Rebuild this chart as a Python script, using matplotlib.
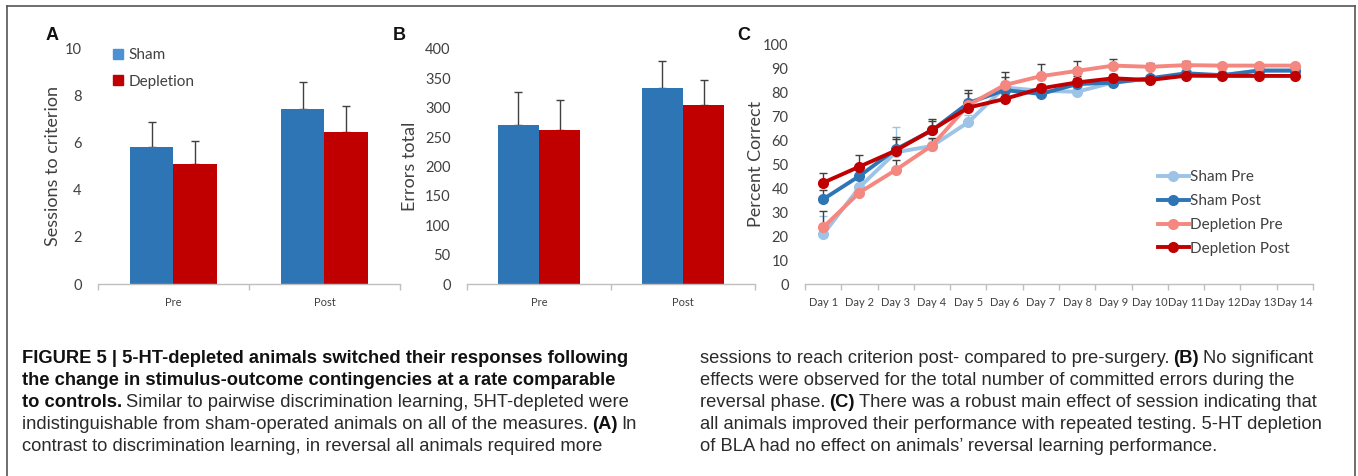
import numpy as np
import matplotlib
matplotlib.use("Agg")
import matplotlib.pyplot as plt
from matplotlib.lines import Line2D
from matplotlib.patches import Patch

W, H = 1358, 476

# panel A / B data
groups = ["Pre", "Post"]
sessions_sham = [5.82, 7.40]
sessions_sham_err = [1.06, 1.17]
sessions_depl = [5.10, 6.45]
sessions_depl_err = [0.96, 1.09]

errors_sham = [271, 334]
errors_sham_err = [55, 45]
errors_depl = [262, 305]
errors_depl_err = [51, 42]

# panel C data
days = ["Day 1", "Day 2", "Day 3", "Day 4", "Day 5", "Day 6", "Day 7",
        "Day 8", "Day 9", "Day 10", "Day 11", "Day 12", "Day 13", "Day 14"]
sham_pre = [20.7, 40.3, 54.9, 57.5, 67.4, 81.9, 80.5, 80.1, 84.0, 85.5, 87.0, 87.0, 89.0, 89.0]
sham_post = [35.3, 45.0, 56.1, 64.0, 75.4, 80.8, 79.2, 83.3, 83.9, 85.7, 87.8, 87.0, 88.9, 88.9]
depl_pre = [23.6, 38.1, 47.5, 57.7, 74.5, 82.9, 86.6, 88.8, 91.0, 90.5, 91.2, 91.0, 91.0, 91.0]
depl_post = [42.2, 48.9, 55.6, 64.2, 73.5, 77.1, 81.5, 84.0, 85.7, 85.0, 86.8, 86.7, 86.7, 86.7]
sham_pre_err = [7.6, 3.0, 10.4, 3.0, 3.0, 2.5, 2.5, 2.0, 1.5, 1.0, 1.0, 1.0, 1.0, 1.0]
sham_post_err = [4.0, 4.0, 5.0, 4.0, 5.5, 5.6, 3.0, 3.4, 2.0, 1.0, 1.0, 1.0, 1.0, 1.0]
depl_pre_err = [7.0, 3.0, 4.0, 3.0, 5.0, 5.3, 5.0, 4.3, 2.6, 1.7, 1.7, 0.8, 0.8, 0.8]
depl_post_err = [4.0, 4.7, 5.0, 4.7, 3.0, 2.0, 2.0, 2.0, 2.0, 1.5, 1.0, 1.0, 1.0, 1.0]

SHAM = "#2E75B6"
SHAM_LEG = "#4B91D3"
DEPL = "#C00000"
LINE_COLORS = ["#9DC3E6", "#2E75B6", "#F4877F", "#C00000"]
TXT = "#404040"
AXC = "#BFBFBF"
CHART_FONT = ["Lato", "DejaVu Sans"]
CAP_FONT = ["Liberation Sans", "DejaVu Sans"]

plt.rcParams["font.family"] = CHART_FONT

fig = plt.figure(figsize=(W / 100, H / 100), dpi=100)


def rect(left, top, right, bottom):
    return [left / W, 1 - bottom / H, (right - left) / W, (bottom - top) / H]


def style_axis(ax, n, label, label_x):
    for s in ["left", "top", "right"]:
        ax.spines[s].set_visible(False)
    ax.spines["bottom"].set_color(AXC)
    ax.spines["bottom"].set_linewidth(1.0)
    ax.set_xlim(-0.5, n - 0.5)
    ax.set_xticks(np.arange(-0.5, n), minor=True)
    ax.tick_params(axis="x", which="major", length=0, pad=9, labelsize=8, labelcolor=TXT)
    ax.tick_params(axis="x", which="minor", length=4, color=AXC, width=1)
    ax.tick_params(axis="y", length=0, pad=11.8, labelsize=10.5, labelcolor=TXT)
    ax.set_ylabel(label, fontsize=13, color=TXT)
    ax.yaxis.set_label_coords(label_x, 0.5)


def bar_panel(ax, sham, sham_err, depl, depl_err, ymax, step, label, label_x):
    x = np.arange(len(groups))
    w = 0.285
    ax.bar(x - w / 2, sham, w, color=SHAM, zorder=2)
    ax.bar(x + w / 2, depl, w, color=DEPL, zorder=2)
    ax.errorbar(x - w / 2, sham, yerr=[np.zeros(len(x)), sham_err], fmt="none",
                ecolor=TXT, elinewidth=1, capsize=3, capthick=1, zorder=1)
    ax.errorbar(x + w / 2, depl, yerr=[np.zeros(len(x)), depl_err], fmt="none",
                ecolor=TXT, elinewidth=1, capsize=3, capthick=1, zorder=1)
    ax.set_ylim(0, ymax)
    ax.set_yticks(np.arange(0, ymax + 1, step))
    ax.set_xticks(x)
    ax.set_xticklabels(groups)
    style_axis(ax, len(groups), label, label_x)


axA = fig.add_axes(rect(98, 48, 400, 284))
bar_panel(axA, sessions_sham, sessions_sham_err, sessions_depl, sessions_depl_err,
          10, 2, "Sessions to criterion", -0.1225)
axA.legend(handles=[Patch(color=SHAM_LEG, label="Sham"), Patch(color=DEPL, label="Depletion")],
           loc="upper left", bbox_to_anchor=(113 / W, 1 - 48 / H), bbox_transform=fig.transFigure,
           frameon=False, fontsize=11, handlelength=0.65, handleheight=0.65,
           handletextpad=0.35, labelspacing=0.82, borderpad=0, borderaxespad=0,
           labelcolor=TXT)

axB = fig.add_axes(rect(467, 49, 755, 284))
bar_panel(axB, errors_sham, errors_sham_err, errors_depl, errors_depl_err,
          400, 50, "Errors total", -0.170)

axC = fig.add_axes(rect(805, 44, 1313, 284))
xd = np.arange(len(days))
series = [(sham_pre, sham_pre_err, "Sham Pre"), (sham_post, sham_post_err, "Sham Post"),
          (depl_pre, depl_pre_err, "Depletion Pre"), (depl_post, depl_post_err, "Depletion Post")]
for i, (vals, err, name) in enumerate(series):
    ecol = LINE_COLORS[0] if i == 0 else TXT
    axC.errorbar(xd, vals, yerr=[np.zeros(len(xd)), err], fmt="none", ecolor=ecol,
                 elinewidth=1, capsize=3, capthick=1, zorder=1 + i * 0.1)
for i, (vals, err, name) in enumerate(series):
    axC.plot(xd, vals, color=LINE_COLORS[i], lw=2.8, marker="o", ms=7, label=name, zorder=3 + i)
axC.set_ylim(0, 100)
axC.set_yticks(np.arange(0, 101, 10))
axC.set_xticks(xd)
axC.set_xticklabels(days)
style_axis(axC, len(days), "Percent Correct", -0.0807)
axC.legend(loc="upper left", bbox_to_anchor=(1158 / W, 1 - 170 / H), bbox_transform=fig.transFigure,
           frameon=False, fontsize=11, handlelength=2.0, handletextpad=0.1,
           labelspacing=0.65, borderpad=0, borderaxespad=0, labelcolor=TXT)

# panel letters
for letter, px, py in [("A", 52, 36), ("B", 399, 36), ("C", 744, 36)]:
    fig.text(px / W, 1 - py / H, letter, fontsize=13, weight="bold", family="Liberation Sans",
             ha="center", va="center", color="#111111")

# frame
for xs, ys in [([7, 7], [6, H]), ([7, 1355], [6, 6]), ([1355, 1355], [6, H])]:
    fig.add_artist(Line2D([x / W for x in xs], [1 - y / H for y in ys], color="#555555", lw=1.2))

# caption
renderer = fig.canvas.get_renderer()
CAP_SIZE = 13.25


def seg_width(txt, bold):
    t = fig.text(0, 0, txt, fontsize=CAP_SIZE, family=CAP_FONT, weight="bold" if bold else "normal")
    w = t.get_window_extent(renderer).width
    t.remove()
    return w


space_w = 0.75 * (seg_width("x x", False) - seg_width("xx", False))


def rich_line(x, y, segments):
    for j, (txt, bold) in enumerate(segments):
        if j > 0:
            x += space_w
        t = fig.text(x / W, 1 - y / H, txt, fontsize=CAP_SIZE, family=CAP_FONT,
                     weight="bold" if bold else "normal", va="baseline", ha="left",
                     color="#111111" if bold else "#2b2b2b")
        x += t.get_window_extent(renderer).width


col1 = [
    [("FIGURE 5 | 5-HT-depleted animals switched their responses following", True)],
    [("the change in stimulus-outcome contingencies at a rate comparable", True)],
    [("to controls.", True), ("Similar to pairwise discrimination learning, 5HT-depleted were", False)],
    [("indistinguishable from sham-operated animals on all of the measures.", False), ("(A)", True), ("In", False)],
    [("contrast to discrimination learning, in reversal all animals required more", False)],
]
col2 = [
    [("sessions to reach criterion post- compared to pre-surgery.", False), ("(B)", True), ("No significant", False)],
    [("effects were observed for the total number of committed errors during the", False)],
    [("reversal phase.", False), ("(C)", True), ("There was a robust main effect of session indicating that", False)],
    [("all animals improved their performance with repeated testing. 5-HT depletion", False)],
    [("of BLA had no effect on animals\u2019 reversal learning performance.", False)],
]
for k, segs in enumerate(col1):
    rich_line(22, 363 + 22 * k, segs)
for k, segs in enumerate(col2):
    rich_line(700, 363 + 22 * k, segs)

fig.savefig("out.png", dpi=100)
